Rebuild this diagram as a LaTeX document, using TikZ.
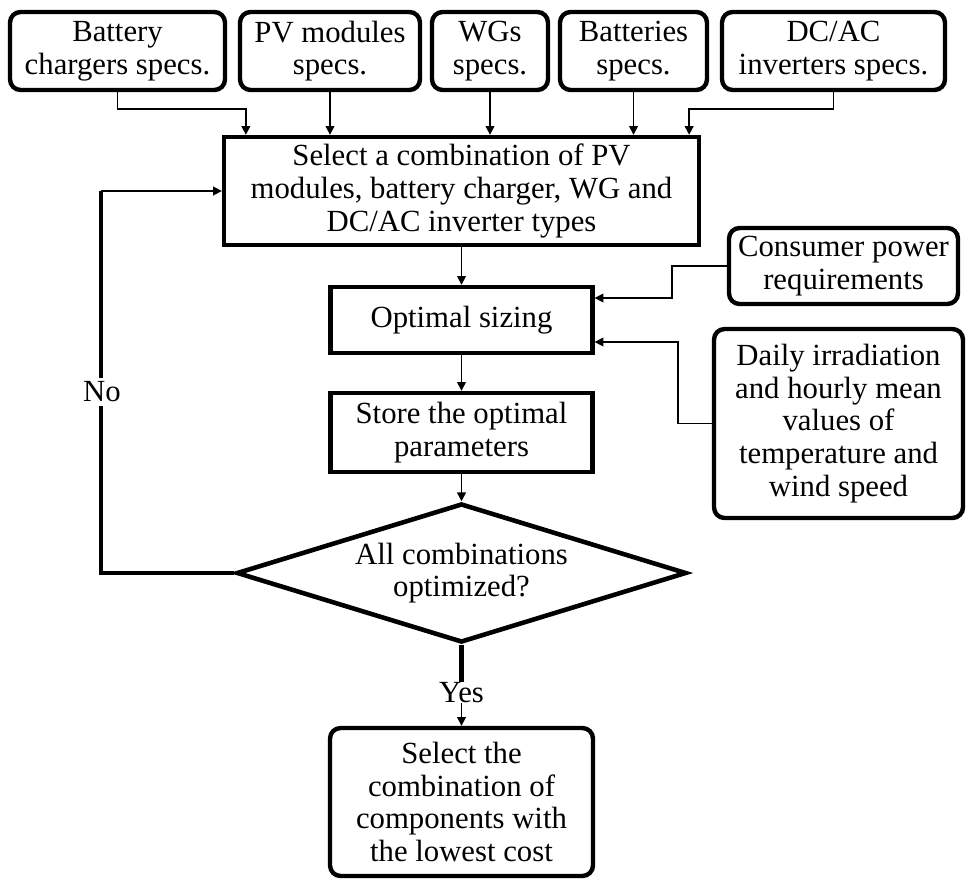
\documentclass[tikz,border=0pt]{standalone}
\usepackage{fontspec}
\setmainfont{Liberation Serif}
\usetikzlibrary{arrows.meta,calc,shapes.geometric}
\begin{document}
\begin{tikzpicture}[x=0.02cm,y=-0.02cm,
  txt/.style={font=\fontsize{17.5}{18.6}\selectfont, align=center, inner sep=0pt},
  rbox/.style={txt, draw, line width=2.5pt, rounded corners=6pt},
  sbox/.style={txt, draw, line width=2.5pt},
  arr/.style={line width=0.9pt, -{Triangle[length=5pt,width=5pt]}},
  heavy/.style={line width=2.3pt}
]
\useasboundingbox (0,0) rectangle (969,879);

% specification inputs
\node[rbox, minimum width=4.30cm, minimum height=1.56cm] (b1) at (117.5,51) {Battery\\chargers specs.};
\node[rbox, minimum width=3.60cm, minimum height=1.56cm] (b2) at (330,51) {PV modules\\specs.};
\node[rbox, minimum width=2.32cm, minimum height=1.56cm] (b3) at (490,51) {WGs\\specs.};
\node[rbox, minimum width=2.94cm, minimum height=1.56cm] (b4) at (633.5,51) {Batteries\\specs.};
\node[rbox, minimum width=4.46cm, minimum height=1.56cm] (b5) at (833.5,51) {DC/AC\\inverters specs.};

% main flow
\node[sbox, minimum width=9.5cm, minimum height=2.16cm] (sel) at (461.5,191)
  {Select a combination of PV\\modules, battery charger, WG and\\DC/AC inverter types};
\node[sbox, minimum width=5.24cm, minimum height=1.32cm] (opt) at (461.5,320) {Optimal sizing};
\node[sbox, minimum width=5.24cm, minimum height=1.58cm] (store) at (461.5,432.5) {Store the optimal\\parameters};
\node[txt, draw, diamond, aspect=3.24, line width=2.6pt, minimum width=9cm, minimum height=2.78cm] (dia) at (461.5,573)
  {All combinations\\optimized?};
\node[rbox, minimum width=5.26cm, minimum height=2.96cm] (fin) at (461.5,802)
  {Select the\\combination of\\components with\\the lowest cost};

% side inputs
\node[rbox, minimum width=4.58cm, minimum height=1.52cm] (cons) at (843.5,266) {Consumer power\\requirements};
\node[rbox, minimum width=4.98cm, minimum height=3.78cm] (daily) at (838.5,423.5)
  {Daily irradiation\\and hourly mean\\values of\\temperature and\\wind speed};

% spec arrows
\draw[arr] (b1.south) -- ++(0,17) -| ($(sel.north west)+(24,0)$);
\draw[arr] (b2.south) -- (b2.south |- sel.north);
\draw[arr] (b3.south) -- (b3.south |- sel.north);
\draw[arr] (b4.south) -- (b4.south |- sel.north);
\draw[arr] (b5.south) -- ++(0,17) -| ($(sel.north east)+(-12,0)$);

% main chain
\draw[arr] (sel.south) -- (opt.north);
\draw[arr] (opt.south) -- (store.north);
\draw[arr] (store.south) -- (dia.north);

% side inputs into sizing
\draw[arr] (cons.west) -- ++(-55,0) |- ($(opt.east)+(0,-22)$);
\draw[arr] (daily.west) -- ++(-34,0) |- ($(opt.east)+(0,22)$);

% loop back on "No"
\coordinate (loopc) at ($(sel.west)+(-121,0)$);
\draw[heavy] (dia.west) -| (loopc);
\draw[arr] (loopc) -- (sel.west);
\node[txt, fill=white, inner sep=2pt] (no) at (102,392) {No};

% exit on "Yes"
\node[txt] (yes) at ($(dia.south)+(0,48)$) {Yes};
\draw[heavy] (dia.south) -- (yes.north);
\draw[arr] (yes.south) -- (fin.north);
\end{tikzpicture}
\end{document}
